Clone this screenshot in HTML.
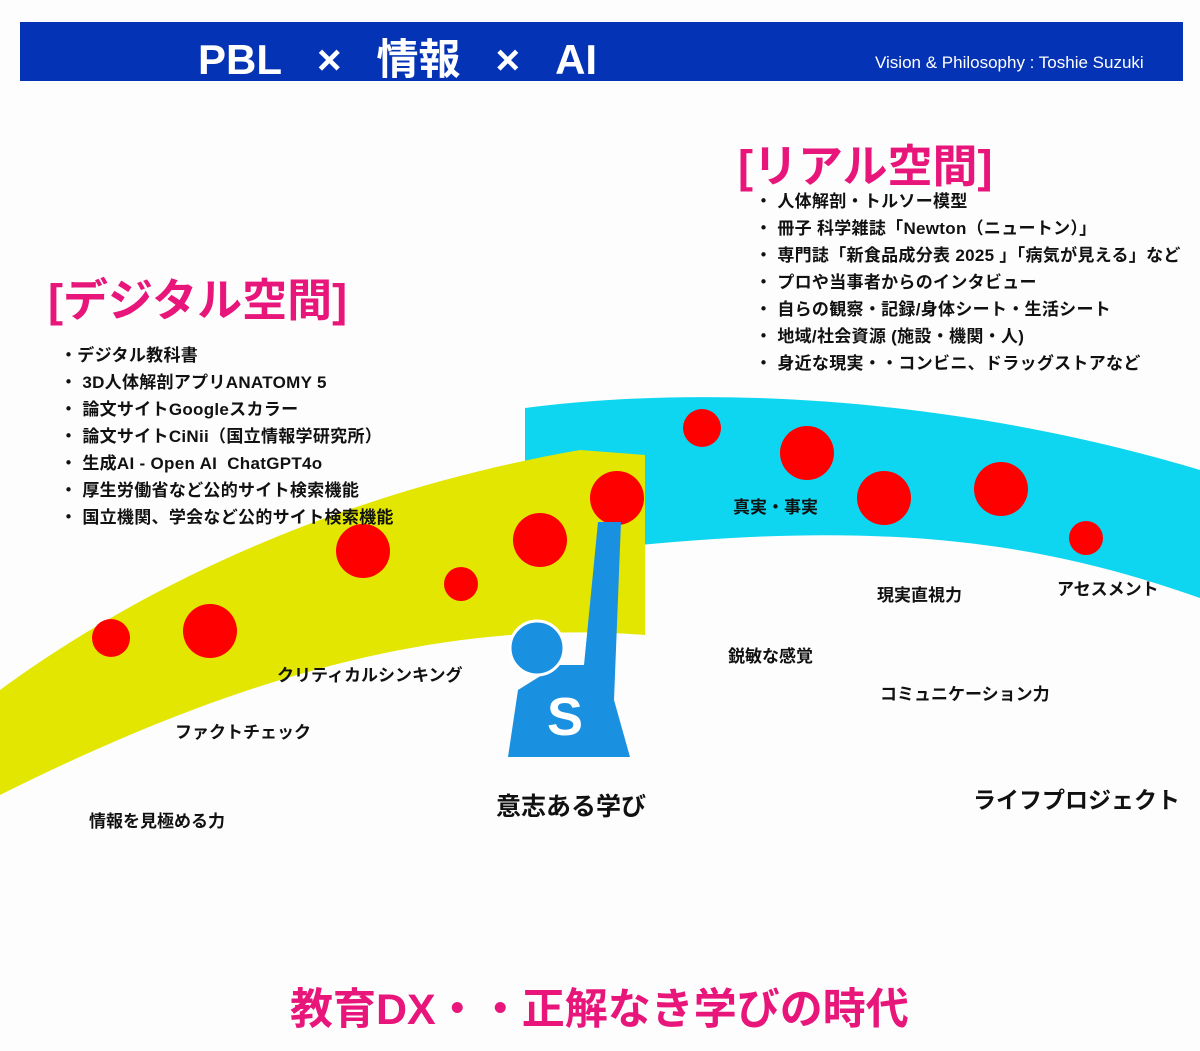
<!DOCTYPE html>
<html><head><meta charset="utf-8"><style>
body{margin:0;width:1200px;height:1051px;background:#fdfdfd;position:relative;overflow:hidden;font-family:"Liberation Sans","Noto Sans CJK JP",sans-serif;}
.t{position:absolute;white-space:nowrap;font-weight:bold;color:#111;}
.li{font-size:17px;line-height:27px;letter-spacing:0.3px;}
</style></head><body>
<div style="position:absolute;left:20px;top:22px;width:1163px;height:59px;background:#0533b5;"></div>
<div class="t" style="left:198px;top:26px;font-size:42px;color:#fff;">PBL&nbsp;&nbsp;&nbsp;×&nbsp;&nbsp;&nbsp;情報&nbsp;&nbsp;&nbsp;×&nbsp;&nbsp;&nbsp;AI</div>
<div class="t" style="left:875px;top:53px;font-size:17px;color:#fff;font-weight:normal;">Vision &amp; Philosophy : Toshie Suzuki</div>

<svg width="1200" height="1051" style="position:absolute;left:0;top:0">
<path d="M525,408 C700,385 950,395 1200,470 L1200,598 C1050,545 900,520 640,545 L580,548 L525,470 Z" fill="#0fd6f0"/>
<path d="M0,690 C150,580 350,490 580,450 L645,455 L645,635 C450,620 250,670 0,795 Z" fill="#e2e600"/>
<g fill="#ff0000">
<circle cx="111" cy="638" r="19"/><circle cx="210" cy="631" r="27"/><circle cx="363" cy="551" r="27"/>
<circle cx="461" cy="584" r="17"/><circle cx="540" cy="540" r="27"/><circle cx="617" cy="498" r="27"/>
<circle cx="702" cy="428" r="19"/><circle cx="807" cy="453" r="27"/><circle cx="884" cy="498" r="27"/>
<circle cx="1001" cy="489" r="27"/><circle cx="1086" cy="538" r="17"/>
</g>
<path d="M598,522 L621,522 L614,700 L630,757 L508,757 L518,690 L558,665 L584,665 Z" fill="#1a90e0"/>
<circle cx="537" cy="648" r="27" fill="#1a90e0" stroke="#fff" stroke-width="3"/>
<text x="565" y="735" font-size="54" font-weight="bold" fill="#fff" text-anchor="middle" font-family="Liberation Sans,sans-serif">S</text>
</svg>

<div class="t" style="left:738px;top:130px;font-size:45px;color:#e8157a;">[リアル空間]</div>
<div class="t" style="left:48px;top:264px;font-size:45px;color:#e8157a;">[デジタル空間]</div>

<div class="t li" style="left:755px;top:188px;">・ 人体解剖・トルソー模型<br>・ 冊子 科学雑誌「Newton（ニュートン）」<br>・ 専門誌「新食品成分表 2025 」「病気が見える」など<br>・ プロや当事者からのインタビュー<br>・ 自らの観察・記録/身体シート・生活シート<br>・ 地域/社会資源 (施設・機関・人)<br>・ 身近な現実・・コンビニ、ドラッグストアなど</div>

<div class="t li" style="left:60px;top:342px;">・デジタル教科書<br>・ 3D人体解剖アプリANATOMY 5<br>・ 論文サイトGoogleスカラー<br>・ 論文サイトCiNii（国立情報学研究所）<br>・ 生成AI - Open AI&nbsp; ChatGPT4o<br>・ 厚生労働省など公的サイト検索機能<br>・ 国立機関、学会など公的サイト検索機能</div>

<div class="t" style="left:733px;top:493px;font-size:17px;">真実・事実</div>
<div class="t" style="left:877px;top:581px;font-size:17px;">現実直視力</div>
<div class="t" style="left:1057px;top:575px;font-size:17px;">アセスメント</div>
<div class="t" style="left:728px;top:642px;font-size:17px;">鋭敏な感覚</div>
<div class="t" style="left:880px;top:680px;font-size:17px;">コミュニケーション力</div>
<div class="t" style="left:973px;top:781px;font-size:23px;">ライフプロジェクト</div>
<div class="t" style="left:277px;top:661px;font-size:17px;">クリティカルシンキング</div>
<div class="t" style="left:175px;top:718px;font-size:17px;">ファクトチェック</div>
<div class="t" style="left:89px;top:807px;font-size:17px;">情報を見極める力</div>
<div class="t" style="left:496px;top:787px;font-size:25px;">意志ある学び</div>
<div class="t" style="left:290px;top:975px;font-size:43px;color:#e8157a;">教育DX・・正解なき学びの時代</div>
</body></html>
